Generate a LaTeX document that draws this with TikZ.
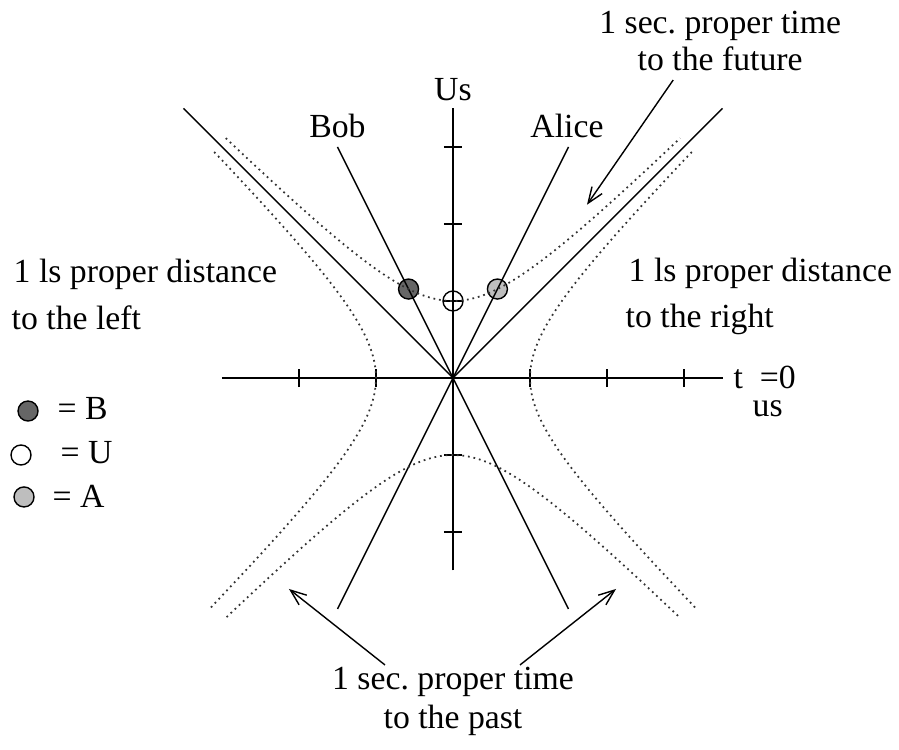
\documentclass[tikz,border=0pt]{standalone}
\usepackage{fontspec}
\setmainfont{Liberation Serif}
\usepackage{tikz}
\usetikzlibrary{arrows.meta}
\definecolor{bobgray}{RGB}{102, 102, 102}
\definecolor{alicegray}{RGB}{190, 190, 190}
\definecolor{dotgray}{RGB}{50, 50, 50}
\frenchspacing

\begin{document}
\begin{tikzpicture}[
    x=0.77cm, y=0.77cm,
    font=\fontsize{9.6}{11}\selectfont,
    axis/.style={line width=0.4pt, black},
    axtick/.style={line width=0.45pt, black},
    worldline/.style={line width=0.4pt, black},
    lightline/.style={line width=0.4pt, black},
    hyper/.style={line width=0.5pt, dash pattern=on 0.5pt off 1.1pt, color=dotgray},
    bobdot/.style={circle, draw, line width=0.4pt, fill=bobgray, minimum size=0.2cm, inner sep=0pt},
    alicedot/.style={circle, draw, line width=0.4pt, fill=alicegray, minimum size=0.2cm, inner sep=0pt},
    usdot/.style={circle, draw, line width=0.4pt, minimum size=0.2cm, inner sep=0pt},
    txt/.style={inner sep=0pt, anchor=base},
    arrow/.style={-{Straight Barb[length=4.5pt, width=3.5pt]}, line width=0.4pt}
]
    \useasboundingbox (-5.883,-4.831) rectangle (5.792,4.909);

    % Events on the future hyperbola
    \node[bobdot] (bobev) at (-0.577,1.155) {};
    \node[alicedot] (aliceev) at (0.577,1.155) {};
    \node[usdot] (usev) at (0,1) {};

    % Axes
    \coordinate (O) at (0,0);
    \coordinate (xmin) at (-3,0);
    \coordinate (xmax) at (3.5,0);
    \coordinate (tmin) at (0,-2.5);
    \coordinate (tmax) at (0,3.5);
    \draw[axis] (xmin) -- (xmax);
    \draw[axis] (tmin) -- (tmax);
    \foreach \k in {-2,-1,1,2,3}
        \draw[axtick] (\k,-0.12) -- (\k,0.12);
    \foreach \k in {-2,-1,1,2,3}
        \draw[axtick] (-0.12,\k) -- (0.12,\k);

    % Light cone and world lines
    \coordinate (lightL) at (-3.5,3.5);
    \coordinate (lightR) at (3.5,3.5);
    \coordinate (bobtop) at (-1.5,3);
    \coordinate (bobbot) at (1.5,-3);
    \coordinate (alicetop) at (1.5,3);
    \coordinate (alicebot) at (-1.5,-3);
    \draw[lightline] (lightL) -- (O) -- (lightR);
    \draw[worldline] (bobtop) -- (bobbot);
    \draw[worldline] (alicetop) -- (alicebot);

    % Hyperbolas
    \draw[hyper] plot[domain=-2.95:2.95, samples=90] (\x, {sqrt(1+\x*\x)});
    \draw[hyper] plot[domain=-2.94:2.94, samples=90] (\x, {-sqrt(1+\x*\x)});
    \draw[hyper] plot[domain=-2.98:2.96, samples=90] ({-sqrt(1+\x*\x)}, \x);
    \draw[hyper] plot[domain=-2.98:2.96, samples=90] ({sqrt(1+\x*\x)}, \x);

    % Labels
    \node[txt] (uslbl) at (0,3.61) {Us};
    \node[txt] (boblbl) at (-1.50,3.12) {Bob};
    \node[txt] (alicelbl) at (1.48,3.12) {Alice};
    \node[txt] (fut1) at (3.47,4.48) {1 sec. proper time};
    \node[txt] (fut2) at (3.47,3.99) {to the future};
    \node[txt, anchor=base west] (left1) at (-5.714,1.234) {1 ls proper distance};
    \node[txt, anchor=base west] (left2) at (-5.740,0.636) {to the left};
    \node[txt, anchor=base west] (right1) at (2.273,1.247) {1 ls proper distance};
    \node[txt, anchor=base west] (right2) at (2.234,0.662) {to the right};
    \node[txt, anchor=base west] (tlbl) at (3.636,-0.14) {t\enspace=0};
    \node[txt, anchor=base west] (uslow) at (3.883,-0.50) {us};
    \node[txt] (past1) at (0,-4.05) {1 sec. proper time};
    \node[txt] (past2) at (0,-4.55) {to the past};

    % Legend
    \node[bobdot] (keyb) at (-5.519,-0.429) {};
    \node[usdot] (keyu) at (-5.610,-1.0) {};
    \node[alicedot] (keya) at (-5.571,-1.545) {};
    \node[txt, anchor=base west] (keyblbl) at (-5.143,-0.545) {= B};
    \node[txt, anchor=base west] (keyulbl) at (-5.104,-1.117) {= U};
    \node[txt, anchor=base west] (keyalbl) at (-5.208,-1.688) {= A};

    % Arrows
    \coordinate (futtail) at (2.86,3.87);
    \coordinate (futtip) at (1.74,2.25);
    \coordinate (pastLtail) at (-0.883,-3.727);
    \coordinate (pastLtip) at (-2.13,-2.74);
    \coordinate (pastRtail) at (0.87,-3.727);
    \coordinate (pastRtip) at (2.117,-2.74);
    \draw[arrow] (futtail) -- (futtip);
    \draw[arrow] (pastLtail) -- (pastLtip);
    \draw[arrow] (pastRtail) -- (pastRtip);

\end{tikzpicture}
\end{document}
